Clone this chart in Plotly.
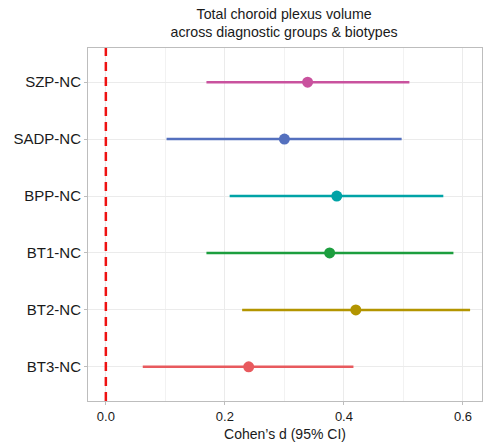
import plotly.graph_objects as go

groups = ["SZP-NC", "SADP-NC", "BPP-NC", "BT1-NC", "BT2-NC", "BT3-NC"]
cohens_d = [0.339, 0.300, 0.388, 0.376, 0.420, 0.240]
ci_low = [0.169, 0.102, 0.208, 0.169, 0.229, 0.062]
ci_high = [0.510, 0.497, 0.567, 0.584, 0.612, 0.416]
colors = ["#C9529E", "#5470BE", "#00A3A6", "#1C9E3E", "#B39500", "#E85A5E"]

fig = go.Figure()
for g, d, lo, hi, c in zip(groups, cohens_d, ci_low, ci_high, colors):
    fig.add_trace(go.Scatter(
        x=[lo, hi], y=[g, g], mode="lines",
        line=dict(color=c, width=2.5), showlegend=False, hoverinfo="skip"))
    fig.add_trace(go.Scatter(
        x=[d], y=[g], mode="markers",
        marker=dict(color=c, size=11), showlegend=False))

fig.add_vline(x=0, line=dict(color="#EE1111", width=2.5, dash="9px,6px"))

fig.update_layout(
    width=484, height=442,
    margin=dict(l=88, r=2, t=48, b=41),
    paper_bgcolor="white", plot_bgcolor="white",
    font=dict(family="Liberation Sans, Arial, sans-serif", size=13, color="#1a1a1a"),
    title=dict(text="Total choroid plexus volume<br>across diagnostic groups & biotypes",
               x=0.587, xanchor="center", yref="container", y=0.958, yanchor="top",
               font=dict(size=14.2, color="#1a1a1a")),
)
fig.update_xaxes(
    range=[-0.030, 0.632], tickvals=[0, 0.2, 0.4, 0.6],
    ticktext=["0.0", "0.2", "0.4", "0.6"],
    showgrid=True, gridcolor="#EBEBEB", gridwidth=1,
    minor=dict(tickvals=[0.1, 0.3, 0.5], showgrid=True, gridcolor="#F2F2F2", gridwidth=1),
    showline=True, linecolor="#BDBDBD", linewidth=1, mirror=True,
    ticks="outside", ticklen=3, tickcolor="#BDBDBD",
    zeroline=False,
    tickfont=dict(size=13, color="#1a1a1a"),
    title=dict(text="Cohen\u2019s d (95% CI)", font=dict(size=14, color="#1a1a1a"), standoff=6),
)
fig.update_yaxes(
    categoryorder="array", categoryarray=groups[::-1],
    range=[-0.6, 5.6],
    showgrid=True, gridcolor="#EBEBEB", gridwidth=1,
    showline=True, linecolor="#BDBDBD", linewidth=1, mirror=True,
    ticks="outside", ticklen=3, tickcolor="#BDBDBD",
    tickfont=dict(size=15, color="#1a1a1a"),
    zeroline=False,
)

fig.write_html("out.html")
